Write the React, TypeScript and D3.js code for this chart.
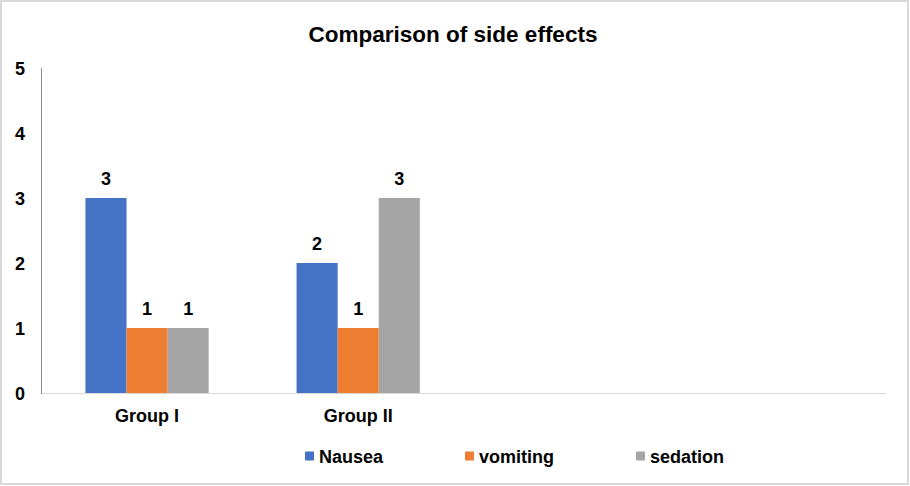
import React, { useRef, useEffect } from 'react';
import * as d3 from 'd3';

// chart data
const categories = ['Group I', 'Group II', '', ''];
const seriesNames = ['Nausea', 'vomiting', 'sedation'];
const nausea = [3, 2];
const vomiting = [1, 1];
const sedation = [1, 3];
const yTicks = [0, 1, 2, 3, 4, 5];
const colors = ['#4472C4', '#ED7D31', '#A5A5A5'];

const App: React.FC = () => {
  const svgRef = useRef<SVGSVGElement>(null);
  const width = 910;
  const height = 486;

  useEffect(() => {
    if (!svgRef.current) return;
    document.body.style.margin = '0';

    const svg = d3.select(svgRef.current);
    svg.selectAll('*').remove();

    const font = '"Liberation Sans", Arial, sans-serif';
    const plot = { left: 41.5, right: 886, top: 68, bottom: 393 };

    // border
    svg.append('rect')
      .attr('x', 1)
      .attr('y', 1)
      .attr('width', width - 3)
      .attr('height', height - 3)
      .attr('fill', '#ffffff')
      .attr('stroke', '#d9d9d9')
      .attr('stroke-width', 2);

    // title
    svg.append('text')
      .attr('x', 453)
      .attr('y', 42)
      .attr('text-anchor', 'middle')
      .style('font-family', font)
      .style('font-weight', 'bold')
      .style('font-size', '22.5px')
      .style('fill', '#000')
      .text('Comparison of side effects');

    const yScale = d3.scaleLinear().domain([0, 5]).range([plot.bottom, plot.top]);

    const x0 = d3.scaleBand<string>()
      .domain(categories.map((_, i) => String(i)))
      .range([plot.left, plot.right])
      .paddingInner(0)
      .paddingOuter(0);

    // three bars of ~41px centred in each 211px band
    const x1 = d3.scaleBand<string>()
      .domain(seriesNames)
      .range([0, x0.bandwidth()])
      .paddingInner(0)
      .paddingOuter(1.07);

    // y tick labels
    svg.append('g')
      .selectAll('text')
      .data(yTicks)
      .enter()
      .append('text')
      .attr('x', 25)
      .attr('y', d => yScale(d) + 6.5)
      .attr('text-anchor', 'end')
      .style('font-family', font)
      .style('font-weight', 'bold')
      .style('font-size', '18px')
      .style('fill', '#000')
      .text(d => String(d));

    const seriesValues = [nausea, vomiting, sedation];
    const rows = categories.map((c, i) => ({
      key: String(i),
      label: c,
      values: seriesNames.map((s, j) => ({ name: s, value: seriesValues[j][i], color: colors[j] }))
        .filter(v => v.value !== undefined),
    }));

    const groups = svg.append('g')
      .selectAll('g')
      .data(rows)
      .enter()
      .append('g')
      .attr('transform', d => `translate(${x0(d.key)},0)`);

    groups.selectAll('rect')
      .data(d => d.values)
      .enter()
      .append('rect')
      .attr('x', d => x1(d.name) as number)
      .attr('y', d => yScale(d.value))
      .attr('width', x1.bandwidth())
      .attr('height', d => yScale(0) - yScale(d.value))
      .attr('fill', d => d.color);

    // value labels
    groups.selectAll('text.value')
      .data(d => d.values)
      .enter()
      .append('text')
      .attr('class', 'value')
      .attr('x', d => (x1(d.name) as number) + x1.bandwidth() / 2)
      .attr('y', d => yScale(d.value) - 13.5)
      .attr('text-anchor', 'middle')
      .style('font-family', font)
      .style('font-weight', 'bold')
      .style('font-size', '18px')
      .style('fill', '#000')
      .text(d => String(d.value));

    // category labels
    groups.append('text')
      .attr('x', x0.bandwidth() / 2)
      .attr('y', 421.5)
      .attr('text-anchor', 'middle')
      .style('font-family', font)
      .style('font-weight', 'bold')
      .style('font-size', '18px')
      .style('fill', '#000')
      .text(d => d.label);

    // axes lines
    svg.append('line')
      .attr('x1', plot.left)
      .attr('x2', plot.right)
      .attr('y1', plot.bottom + 0.5)
      .attr('y2', plot.bottom + 0.5)
      .attr('stroke', '#d9d9d9')
      .attr('stroke-width', 1);

    svg.append('line')
      .attr('x1', plot.left)
      .attr('x2', plot.left)
      .attr('y1', plot.top)
      .attr('y2', plot.bottom + 1)
      .attr('stroke', '#8c8c8c')
      .attr('stroke-width', 1);

    // legend
    const legendX = [305, 465, 636];
    const legend = svg.append('g')
      .selectAll('g')
      .data(seriesNames)
      .enter()
      .append('g')
      .attr('transform', (_d, i) => `translate(${legendX[i]},0)`);

    legend.append('rect')
      .attr('x', 0)
      .attr('y', 451.5)
      .attr('width', 9)
      .attr('height', 9)
      .attr('fill', (_d, i) => colors[i]);

    legend.append('text')
      .attr('x', 14)
      .attr('y', 462.5)
      .style('font-family', font)
      .style('font-weight', 'bold')
      .style('font-size', '18px')
      .style('fill', '#000')
      .text(d => d);
  }, []);

  return (
    <svg
      ref={svgRef}
      width={width}
      height={height}
      viewBox={`0 0 ${width} ${height}`}
      style={{ display: 'block' }}
    ></svg>
  );
};

export default App;
